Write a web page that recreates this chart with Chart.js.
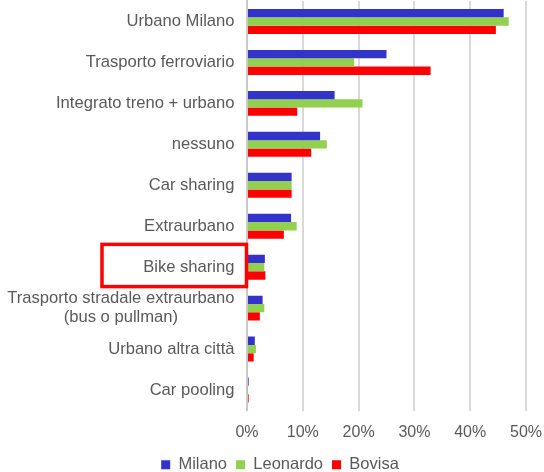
<!DOCTYPE html>
<html>
<head>
<meta charset="utf-8">
<script src="https://cdn.jsdelivr.net/npm/chart.js@4/dist/chart.umd.min.js"></script>
<style>
html,body{margin:0;padding:0;background:#fff;}
#wrap{width:544px;height:472px;position:relative;}
</style>
</head>
<body>
<div id="wrap"><canvas id="c" width="544" height="472"></canvas></div>
<script>
const categories = ['Urbano Milano','Trasporto ferroviario','Integrato treno + urbano','nessuno','Car sharing','Extraurbano','Bike sharing',['Trasporto stradale extraurbano','(bus o pullman)'],'Urbano altra città','Car pooling'];
const milano   = [46.0, 25.0, 15.7, 13.1, 8.0, 7.9, 3.2, 2.8, 1.4, 0.3];
const leonardo = [46.9, 19.2, 20.7, 14.3, 8.0, 8.9, 3.1, 3.1, 1.6, 0.1];
const bovisa   = [44.6, 32.9,  9.0, 11.5, 8.0, 6.6, 3.3, 2.3, 1.2, 0.3];
const xTicks = [0, 10, 20, 30, 40, 50];
const highlighted = 'Bike sharing';

const FONT = 'Liberation Sans, Arial, sans-serif';
const TEXT = '#595959';

const yLabelPlugin = {
  id: 'yLabels',
  afterDraw(chart) {
    const s = chart.scales.y;
    const ctx = chart.ctx;
    ctx.save();
    ctx.font = '16.6px ' + FONT;
    ctx.fillStyle = TEXT;
    ctx.textBaseline = 'middle';
    ctx.textAlign = 'center';
    const lh = 19;
    categories.forEach((lab, i) => {
      const lines = Array.isArray(lab) ? lab : [lab];
      const w = Math.max(...lines.map(l => ctx.measureText(l).width));
      const xr = chart.chartArea.left - 12.5;
      const py = s.getPixelForValue(i);
      lines.forEach((l, j) => {
        ctx.fillText(l, xr - w / 2, py + (j - (lines.length - 1) / 2) * lh);
      });
    });
    // highlight box
    const idx = categories.indexOf(highlighted);
    const py = s.getPixelForValue(idx);
    const x0 = 102, x1 = chart.chartArea.left - 0.5;
    ctx.strokeStyle = '#FF0000';
    ctx.lineWidth = 3.5;
    ctx.strokeRect(x0, py - 22.8, x1 - x0, 42.2);
    ctx.restore();
  }
};

new Chart(document.getElementById('c'), {
  type: 'bar',
  data: {
    labels: categories,
    datasets: [
      {label: 'Milano', data: milano, backgroundColor: '#3333CC'},
      {label: 'Leonardo', data: leonardo, backgroundColor: '#92D050'},
      {label: 'Bovisa', data: bovisa, backgroundColor: '#FF0000'}
    ]
  },
  options: {
    indexAxis: 'y',
    responsive: false,
    animation: false,
    devicePixelRatio: 1,
    categoryPercentage: 0.61,
    barPercentage: 1,
    layout: {padding: {top: 1, right: 18, left: 34, bottom: -11}},
    scales: {
      x: {
        min: 0, max: 50,
        afterBuildTicks(scale) { scale.ticks = xTicks.map(v => ({value: v})); },
        afterFit(scale) { scale.height = 37; scale.paddingLeft = 0; scale.paddingRight = 0; },
        grid: {color: '#d9d9d9', lineWidth: 2, drawTicks: false},
        border: {display: false},
        ticks: {
          color: TEXT, font: {size: 16, family: FONT}, padding: 12,
          callback: v => v + '%'
        }
      },
      y: {
        grid: {display: false, drawTicks: false},
        border: {display: true, color: '#c8c8c8', width: 2},
        afterFit(scale) { scale.width = 213; },
        ticks: {display: false, autoSkip: false}
      }
    },
    plugins: {
      legend: {
        position: 'bottom',
        labels: {
          boxWidth: 9, boxHeight: 9, padding: 9,
          color: TEXT, font: {size: 16.5, family: FONT}
        }
      },
      tooltip: {enabled: false}
    }
  },
  plugins: [yLabelPlugin]
});
</script>
</body>
</html>
